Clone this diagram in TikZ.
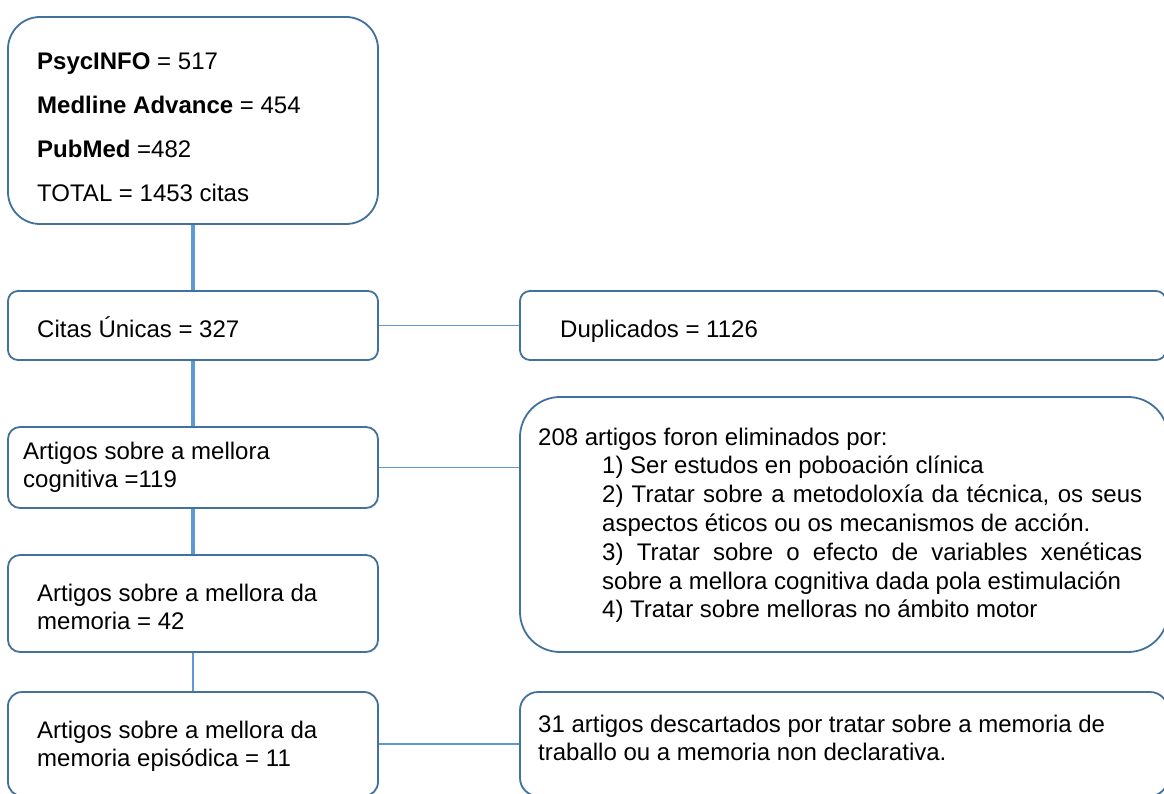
\documentclass[tikz,border=0pt]{standalone}
\usepackage{fontspec}
\setmainfont{Liberation Sans}
\definecolor{bord}{HTML}{41719C}
\definecolor{conn}{HTML}{5B9BD5}
\newcommand{\mf}{\fontsize{24}{28.8}\selectfont}
\begin{document}
\begin{tikzpicture}[x=1pt,y=-1pt,
  box/.style={draw=bord, line width=1.8pt, fill=white, inner sep=0pt, rectangle},
  vconn/.style={draw=conn, line width=4pt},
  vconnthin/.style={draw=conn, line width=2.5pt},
  hconn/.style={draw=conn, line width=1.4pt},
  hconnmid/.style={draw=conn, line width=2.2pt},
  txt/.style={anchor=base west, inner sep=0pt, font=\mf, text=black}]
\useasboundingbox (0,0) rectangle (1164,794);
\clip (0,0) rectangle (1164,794);
\fill[white] (0,0) rectangle (1164,794);
% boxes
\node[box, rounded corners=32pt, minimum width=370pt, minimum height=207pt] (top) at (193,120.5) {};
\node[box, rounded corners=10pt, minimum width=370pt, minimum height=69pt] (citas) at (193,325.5) {};
\node[box, rounded corners=10pt, minimum width=646pt, minimum height=69pt] (dup) at (843,325.5) {};
\node[box, rounded corners=40pt, minimum width=648pt, minimum height=255pt] (elim) at (844,524.5) {};
\node[box, rounded corners=12pt, minimum width=370pt, minimum height=81pt] (cog) at (193,467.5) {};
\node[box, rounded corners=12pt, minimum width=370pt, minimum height=97pt] (mem) at (193,603.5) {};
\node[box, rounded corners=14pt, minimum width=370pt, minimum height=104pt] (epi) at (193,744) {};
\node[box, rounded corners=18pt, minimum width=648pt, minimum height=104pt] (b31) at (844,744) {};
% connectors
\draw[vconn] (top.south) -- (citas.north);
\draw[vconn] (citas.south) -- (cog.north);
\draw[vconn] (cog.south) -- (mem.north);
\draw[vconnthin] (mem.south) -- (epi.north);
\draw[hconn] (citas.east) -- (dup.west);
\draw[hconn] (cog.east) -- (cog.east -| elim.west);
\draw[hconnmid] (epi.east) -- (b31.west);
% texts
\node[txt] (ttop) at (37,70) {\parbox[t]{340pt}{\textbf{PsycINFO} = 517\\[14.9pt]
\textbf{Medline Advance} = 454\\[14.9pt]
\textbf{PubMed} =482\\[14.9pt]
TOTAL = 1453 citas}};
\node[txt] (tcitas) at (37,337) {Citas Únicas = 327};
\node[txt] (tdup) at (560,337) {Duplicados = 1126};
\node[txt] (tcog) at (23,459) {\parbox[t]{350pt}{Artigos sobre a mellora\\cognitiva =119}};
\node[txt] (tmem) at (37,601) {\parbox[t]{340pt}{Artigos sobre a mellora da\\memoria = 42}};
\node[txt] (tepi) at (37,738) {\parbox[t]{340pt}{Artigos sobre a mellora da\\memoria episódica = 11}};
\node[txt] (t31) at (538,732) {\parbox[t]{620pt}{31 artigos descartados por tratar sobre a memoria de\\traballo ou a memoria non declarativa.}};
\node[txt] (telim) at (538,445) {\parbox[t]{610pt}{208 artigos foron eliminados por:\\
\hspace*{64pt}1) Ser estudos en poboación clínica\\
\hspace*{64pt}\makebox[540pt][s]{2) Tratar sobre a metodoloxía da técnica, os seus}\\
\hspace*{64pt}aspectos éticos ou os mecanismos de acción.\\
\hspace*{64pt}\makebox[540pt][s]{3) Tratar sobre o efecto de variables xenéticas}\\
\hspace*{64pt}sobre a mellora cognitiva dada pola estimulación\\
\hspace*{64pt}4) Tratar sobre melloras no ámbito motor}};
\end{tikzpicture}
\end{document}
